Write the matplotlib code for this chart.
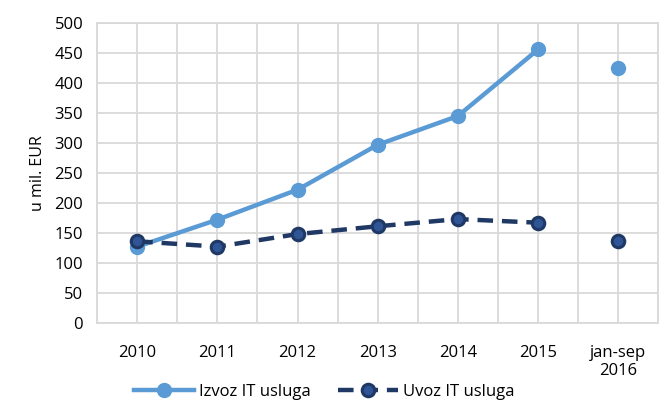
import numpy as np
from matplotlib import pyplot as plt

categories = ["2010", "2011", "2012", "2013", "2014", "2015", "jan-sep\n2016"]
izvoz = [127, 172, 222, 297, 345, 456, 425]
uvoz = [136, 127, 148, 161, 173, 167, 137]

plt.rcParams["font.family"] = ["Open Sans", "DejaVu Sans"]

fig = plt.figure(figsize=(6.65, 4.05), dpi=100)
ax = fig.add_axes([0.146, 0.203, 0.844, 0.74])

x = np.arange(len(categories))
c_izvoz = "#5B9BD5"
c_uvoz = "#1F3864"

# the partial-year point is drawn on its own, not joined
ax.plot(x[:-1], izvoz[:-1], color=c_izvoz, linewidth=3.2, marker="o", markersize=10,
        zorder=3, label="Izvoz IT usluga")
ax.plot(x[-1:], izvoz[-1:], color=c_izvoz, linestyle="none", marker="o", markersize=10, zorder=3)
ax.plot(x[:-1], uvoz[:-1], color=c_uvoz, linewidth=3.2, linestyle=(0, (3.5, 2)), marker="o",
        markersize=9, markerfacecolor="#2F5597", markeredgecolor=c_uvoz, markeredgewidth=2.2,
        zorder=4, label="Uvoz IT usluga")
ax.plot(x[-1:], uvoz[-1:], linestyle="none", marker="o", markersize=9,
        markerfacecolor="#2F5597", markeredgecolor=c_uvoz, markeredgewidth=2.2, zorder=4)

ax.set_xlim(-0.5, len(categories) - 0.5)
ax.set_ylim(0, 500)
ax.set_yticks(np.arange(0, 501, 50))
ax.set_xticks(x)
ax.set_xticklabels(categories)
ax.set_xticks(np.arange(-0.5, len(categories), 1.0), minor=True)

ax.grid(True, which="both", color="#D9D9D9", linewidth=1.3)
ax.set_axisbelow(True)
for s in ax.spines.values():
    s.set_color("#D9D9D9")
    s.set_linewidth(1.3)
ax.tick_params(which="both", length=0, labelsize=12)
ax.tick_params(axis="x", pad=16)
ax.tick_params(axis="y", pad=10)

ax.set_ylabel("u mil. EUR", fontsize=11.5, labelpad=6)

ax.legend(loc="upper center", bbox_to_anchor=(0.405, -0.155), ncol=2, frameon=False,
          fontsize=12, handlelength=3.6, columnspacing=1.6, handletextpad=0.3)

fig.savefig("out.png", dpi=100)
